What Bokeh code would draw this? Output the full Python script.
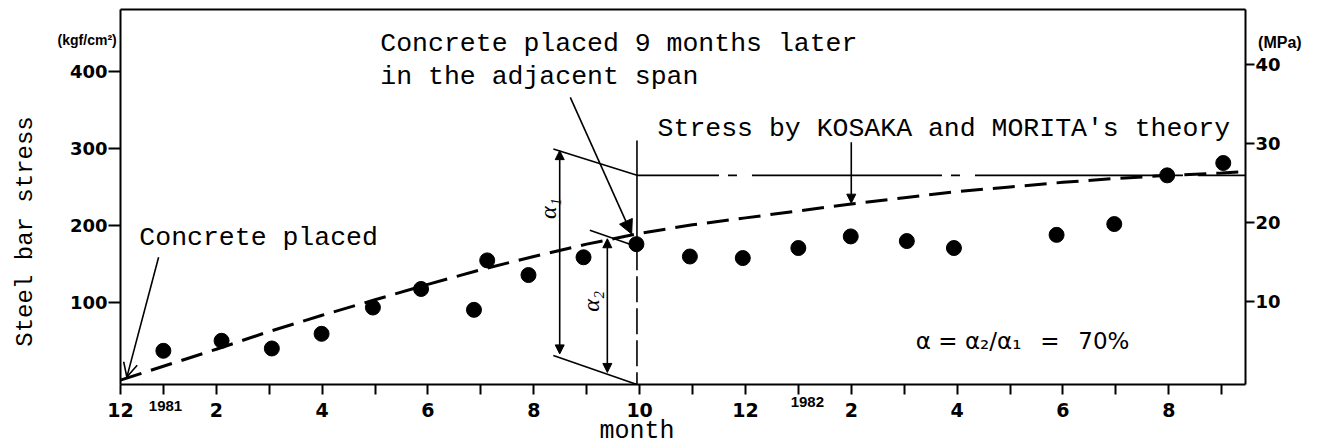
import math
from bokeh.plotting import figure
from bokeh.models import (Range1d, LinearAxis, FixedTicker, Label, Arrow,
                          NormalHead, OpenHead)
from bokeh.embed import file_html
from bokeh.resources import INLINE

# ---------------- data ----------------
# x: months counted from Jan 1981 = 1 (Dec 1980 = 0) ; y: kgf/cm2
obs_month = [1.0, 2.1, 3.05, 3.99, 4.96, 5.87, 6.87, 7.12, 7.9, 8.94, 9.94,
             10.95, 11.95, 13.0, 13.99, 15.05, 15.94, 17.88, 18.97, 19.97, 21.03]
obs_stress = [38, 51, 41, 60, 94, 118, 91, 155, 136, 159, 176,
              160, 158, 171, 186, 180, 171, 188, 202, 265, 281]

curve_month = [0.19, 1, 2, 3, 4, 5, 6, 7, 8, 9, 10, 11, 12, 13, 14, 15, 16,
               17, 18, 19, 20, 21, 21.45]
curve_stress = [0, 18, 40, 63, 84, 104, 124, 143, 160, 176, 190, 201, 210,
                219, 228, 236, 244, 250, 256, 261, 265, 268, 270]

theory_stress = 265          # KOSAKA and MORITA's theory level
pour2_month = 9.95           # concrete placed in the adjacent span

month_ticks = [0.19] + list(range(1, 22))
month_labels = {0.19: "12", 2: "2", 4: "4", 6: "6", 8: "8", 10: "10",
                12: "12", 14: "2", 16: "4", 18: "6", 20: "8"}
left_ticks = [100, 200, 300, 400]
right_ticks = [10, 20, 30, 40]
KGF_TO_MPA = 0.0980665

# axes box (data) and full canvas extent (data)
X0, X1 = 0.19, 21.45
Y0, Y1 = -5.6, 479.6
CX0, CX1 = -2.0777, 22.8106
CY0, CY1 = -88.407, 491.245

MONO = "Liberation Mono"
BOLD = "DejaVu Sans"

p = figure(width=1317, height=448, x_range=Range1d(CX0, CX1),
           y_range=Range1d(CY0, CY1), output_backend="svg",
           toolbar_location=None, min_border=0)
p.grid.visible = False
p.outline_line_color = None
p.background_fill_color = "white"
p.border_fill_color = "white"

# x axis
xa = p.xaxis[0]
xa.fixed_location = Y0
xa.bounds = (X0, X1)
xa.ticker = FixedTicker(ticks=month_ticks, minor_ticks=[])
xa.major_label_overrides = {k: month_labels.get(k, "") for k in month_ticks}
xa.major_tick_out = 10
xa.major_tick_in = 0
xa.major_tick_line_width = 2
xa.axis_line_width = 2
xa.major_label_standoff = 8
xa.major_label_text_font = BOLD
xa.major_label_text_font_style = "bold"
xa.major_label_text_font_size = "19px"
xa.major_label_text_color = "black"

# left axis
ya = p.yaxis[0]
ya.fixed_location = X0
ya.bounds = (Y0, Y1)
ya.ticker = FixedTicker(ticks=left_ticks, minor_ticks=[])
ya.major_tick_out = 12
ya.major_tick_in = 0
ya.major_tick_line_width = 2
ya.axis_line_width = 2
ya.major_label_standoff = 1
ya.major_label_text_font = BOLD
ya.major_label_text_font_style = "bold"
ya.major_label_text_font_size = "18px"
ya.major_label_text_color = "black"

# right axis (MPa)
p.extra_y_ranges = {"mpa": Range1d(CY0 * KGF_TO_MPA, CY1 * KGF_TO_MPA)}
ra = LinearAxis(y_range_name="mpa",
                ticker=FixedTicker(ticks=right_ticks, minor_ticks=[]))
ra.fixed_location = X1
ra.bounds = (Y0 * KGF_TO_MPA, Y1 * KGF_TO_MPA)
ra.major_tick_out = 9
ra.major_tick_in = 0
ra.major_tick_line_width = 2
ra.axis_line_width = 2
ra.major_label_standoff = 1
ra.major_label_text_font = BOLD
ra.major_label_text_font_style = "bold"
ra.major_label_text_font_size = "18px"
ra.major_label_text_color = "black"
p.add_layout(ra, "right")

# top border of the box
p.segment(x0=[X0], y0=[Y1], x1=[X1], y1=[Y1], line_color="black", line_width=2)

# theory curve (dashed) and observations
p.line(curve_month, curve_stress, line_color="black", line_width=3,
       line_dash="22 10")
p.scatter(obs_month, obs_stress, size=15, color="black")

# construction lines
seg = dict(line_color="black", line_width=1.6)
p.segment(x0=[8.37], y0=[299], x1=[pour2_month], y1=[theory_stress], **seg)
p.segment(x0=[8.37], y0=[32], x1=[pour2_month], y1=[Y0], **seg)
p.segment(x0=[9.06], y0=[194], x1=[9.86], y1=[175], **seg)
p.segment(x0=[pour2_month], y0=[310], x1=[pour2_month], y1=[176], **seg)
p.segment(x0=[pour2_month], y0=[176], x1=[pour2_month], y1=[Y0],
          line_color="black", line_width=1.6, line_dash="26 6")
p.segment(x0=[pour2_month], y0=[theory_stress], x1=[X1], y1=[theory_stress],
          line_color="black", line_width=1.6, line_dash="190 9 9 15",
          line_dash_offset=108)

# alpha dimension arrows
for xm, ya0, ya1 in [(8.49, 297, 34), (9.39, 183, 10)]:
    p.add_layout(Arrow(x_start=xm, y_start=ya0, x_end=xm, y_end=ya1,
                       line_width=1.6, line_color="black",
                       start=NormalHead(size=9, fill_color="black", line_color="black"),
                       end=NormalHead(size=9, fill_color="black", line_color="black")))

# annotation arrows
p.add_layout(Arrow(x_start=0.91, y_start=159, x_end=0.31, y_end=4,
                   line_width=1.6, line_color="black",
                   end=OpenHead(size=14, line_color="black", line_width=1.6)))
p.add_layout(Arrow(x_start=8.69, y_start=366, x_end=9.85, y_end=189,
                   line_width=1.6, line_color="black",
                   end=NormalHead(size=14, fill_color="black", line_color="black")))
p.add_layout(Arrow(x_start=14.0, y_start=308, x_end=14.0, y_end=229,
                   line_width=1.6, line_color="black",
                   end=NormalHead(size=9, fill_color="black", line_color="black")))

def lab(x, y, text, font=MONO, size="26.5px", style="normal", align="left",
        angle=0.0, baseline="middle"):
    p.add_layout(Label(x=x, y=y, text=text, text_font=font,
                       text_font_size=size, text_font_style=style,
                       text_align=align, text_baseline=baseline,
                       angle=angle, text_color="black"))

lab(5.10, 435.6, "Concrete placed 9 months later")
lab(5.10, 392.7, "in the adjacent span")
lab(0.546, 184, "Concrete placed")
lab(10.34, 325.5, "Stress by KOSAKA and MORITA's theory")
lab(15.22, 51, "α = α₂/α₁ \u2002= \u200270%", font="DejaVu Sans", size="23px")
lab(8.26, 222, "α₁", font="Liberation Serif", size="24px", style="italic",
    align="center", angle=math.pi / 2)
lab(9.09, 102, "α₂", font="Liberation Serif", size="24px", style="italic",
    align="center", angle=math.pi / 2)

# axis titles, units, years
lab(-1.605, 192.4, "Steel bar stress", size="24px", align="center",
    angle=math.pi / 2)
lab(9.95, -66.4, "month", size="25px", align="center")
lab(-0.44, 439.5, "(kgf/cm²)", font="Liberation Sans", size="14px",
    style="bold", align="center")
lab(22.1, 437, "(MPa)", font="Liberation Sans", size="16px", style="bold",
    align="center")
lab(1.04, -34, "1981", font="Liberation Sans", size="15px", style="bold",
    align="center")
lab(13.17, -27.6, "1982", font="Liberation Sans", size="15px", style="bold",
    align="center")

open("out.html", "w").write(file_html(p, INLINE))
